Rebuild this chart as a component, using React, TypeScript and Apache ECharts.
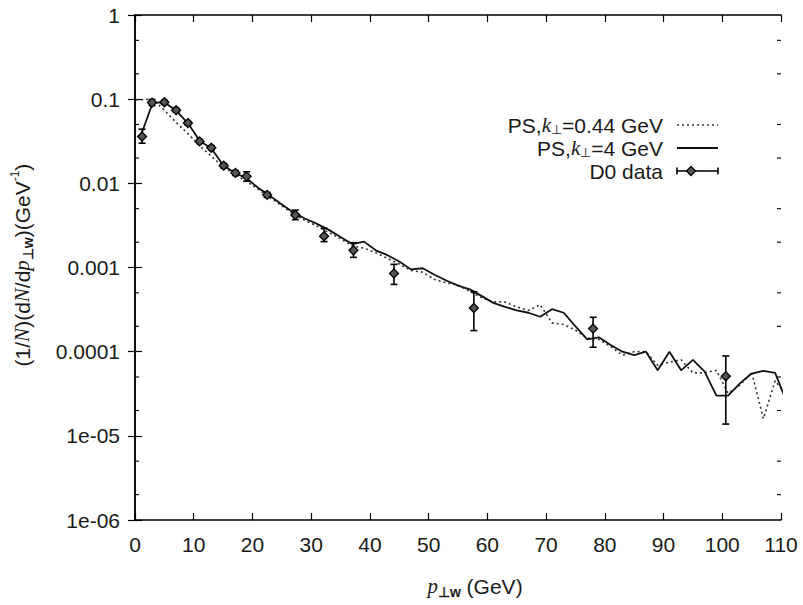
import React, { useEffect, useRef } from "react";
import * as echarts from "echarts";

// ---- data ----
const solidX = [1, 3, 5, 7, 9, 11, 13, 15, 17, 19, 21, 23, 25, 27, 29, 31, 33, 35, 37, 39, 41, 43, 45, 47, 49, 51, 53, 55, 57, 59, 61, 63, 65, 67, 69, 71, 73, 75, 77, 79, 81, 83, 85, 87, 89, 91, 93, 95, 97, 99, 101, 103, 105, 107, 109, 111];
const solidY = [0.037, 0.09, 0.092, 0.073, 0.052, 0.032, 0.026, 0.0165, 0.0133, 0.0115, 0.0088, 0.0071, 0.0056, 0.0045, 0.0038, 0.0033, 0.0028, 0.0023, 0.0019, 0.00203, 0.0016, 0.0014, 0.00118, 0.00095, 0.00098, 0.00082, 0.0007, 0.00061, 0.00055, 0.00046, 0.00038, 0.00034, 0.00031, 0.00029, 0.00026, 0.00032, 0.00029, 0.0002, 0.00014, 0.000148, 0.00012, 0.0001, 9.1e-5, 1.0e-4, 6.0e-5, 1.0e-4, 6.0e-5, 8.0e-5, 5.8e-5, 3.0e-5, 3.0e-5, 4.2e-5, 5.5e-5, 5.9e-5, 5.6e-5, 2.5e-5];

const dottedX = [0.2, 3, 5, 7, 9, 11, 13, 15, 17, 19, 21, 23, 25, 27, 29, 31, 33, 35, 37, 39, 41, 43, 45, 47, 49, 51, 53, 55, 57, 59, 61, 63, 65, 67, 69, 71, 73, 75, 77, 79, 81, 83, 85, 87, 89, 91, 93, 95, 97, 99, 101, 103, 105, 107, 109, 111];
const dottedY = [0.098, 0.1, 0.074, 0.053, 0.039, 0.028, 0.021, 0.0158, 0.0128, 0.0105, 0.0085, 0.0068, 0.0054, 0.0043, 0.0036, 0.0031, 0.0026, 0.0022, 0.0018, 0.0017, 0.0015, 0.00128, 0.0011, 0.00092, 0.00088, 0.00072, 0.00066, 0.00062, 0.00052, 0.00044, 0.00039, 0.00039, 0.00034, 0.00031, 0.00036, 0.00022, 0.00021, 0.00018, 0.000145, 0.00014, 0.000115, 9.1e-5, 1.0e-4, 1.0e-4, 6.9e-5, 7.5e-5, 8.0e-5, 5.6e-5, 5.6e-5, 6.0e-5, 3.2e-5, 4.0e-5, 5.7e-5, 1.6e-5, 4.5e-5, 3.0e-5];

const d0X = [1.2, 2.9, 5.0, 7.0, 9.0, 11.0, 13.0, 15.1, 17.1, 19.0, 22.5, 27.3, 32.2, 37.2, 44.1, 57.7, 78.0, 100.6];
const d0Y = [0.036, 0.091, 0.092, 0.074, 0.052, 0.0315, 0.0265, 0.0162, 0.0133, 0.0121, 0.0073, 0.0042, 0.00235, 0.0016, 0.00085, 0.00033, 0.000188, 5.1e-5];
const d0Lo = [0.030, 0.084, 0.087, 0.070, 0.0495, 0.0298, 0.0250, 0.0152, 0.0124, 0.0106, 0.0068, 0.0037, 0.00203, 0.00132, 0.00063, 0.000178, 0.000113, 1.38e-5];
const d0Hi = [0.044, 0.099, 0.097, 0.078, 0.0545, 0.0332, 0.0280, 0.0172, 0.0142, 0.0137, 0.0078, 0.0048, 0.00292, 0.00197, 0.00109, 0.000516, 0.000256, 8.9e-5];

const xTicks = [0, 10, 20, 30, 40, 50, 60, 70, 80, 90, 100, 110];
const yTickValues = [1, 0.1, 0.01, 0.001, 0.0001, 1e-5, 1e-6];
const yTickLabels = ["1", "0.1", "0.01", "0.001", "0.0001", "1e-05", "1e-06"];
const yMinorTicks = [0.5, 0.2, 0.05, 0.02, 0.005, 0.002, 0.0005, 0.0002, 5e-5, 2e-5, 5e-6, 2e-6];

const FONT = "'Liberation Sans', Arial, Helvetica, sans-serif";
const SERIF = "'Liberation Serif', 'Times New Roman', serif";
const TXT = "#1a1a1a";

export default function App() {
  const ref = useRef<HTMLDivElement>(null);
  useEffect(() => {
    if (!ref.current) return;
    const chart = echarts.init(ref.current, null, { renderer: "svg" });

    const labelFor = (v: number) => {
      for (let i = 0; i < yTickValues.length; i++) {
        if (Math.abs(Math.log10(v) - Math.log10(yTickValues[i])) < 1e-6) return yTickLabels[i];
      }
      return "";
    };

    const axisLine = { show: true, lineStyle: { color: "#000", width: 1.5 } };
    const tick = { show: true, inside: true, length: 7, lineStyle: { color: "#000", width: 1.2 } };
    const xBase = {
      type: "value" as const,
      min: xTicks[0],
      max: xTicks[xTicks.length - 1],
      interval: 10,
      axisLine,
      axisTick: tick,
      splitLine: { show: false },
    };
    const yBase = {
      type: "log" as const,
      logBase: 10,
      min: 1e-6,
      max: 1,
      axisLine,
      axisTick: tick,
      splitLine: { show: false },
      minorTick: { show: false },
    };

    const sub = { fontSize: 14, fontFamily: FONT, fontWeight: "bold", fill: TXT, verticalAlign: "bottom", lineHeight: 14 };
    const main = { fontSize: 21, fontFamily: FONT, fill: TXT, lineHeight: 26 };
    const it = { fontSize: 21, fontFamily: SERIF, fontStyle: "italic", fill: TXT, lineHeight: 26 };
    const sup = { fontSize: 12, fontFamily: FONT, fill: TXT, verticalAlign: "top", lineHeight: 12 };

    const lmain = { fontSize: 21, fontFamily: FONT, fill: TXT, lineHeight: 21 };
    const lit = { fontSize: 21, fontFamily: SERIF, fontStyle: "italic", fill: TXT, lineHeight: 21 };
    const lsub = { fontSize: 13, fontFamily: FONT, fill: TXT, verticalAlign: "bottom", lineHeight: 11 };

    const legendTextX = 663;
    const lx0 = 677;
    const lx1 = 718;
    const ly = [125, 148, 171];

    chart.setOption({
      animation: false,
      backgroundColor: "#fff",
      grid: { left: 135, right: 22, top: 15, bottom: 85 },
      xAxis: [
        {
          ...xBase,
          position: "bottom",
          axisLabel: { show: true, fontSize: 21, fontFamily: FONT, color: TXT, margin: 14 },
        },
        { ...xBase, position: "top", axisLabel: { show: false } },
      ],
      yAxis: [
        {
          ...yBase,
          position: "left",
          axisLabel: { show: true, fontSize: 21, fontFamily: FONT, color: TXT, margin: 15, formatter: (v: number) => labelFor(v) },
        },
        { ...yBase, position: "right", axisLabel: { show: false } },
      ],
      series: [
        {
          type: "line",
          name: "dotted",
          data: dottedX.map((x, i) => [x, dottedY[i]]),
          showSymbol: false,
          symbol: "none",
          clip: true,
          lineStyle: { color: "#333", width: 1.6, type: [2, 3] },
          z: 2,
        },
        {
          type: "line",
          name: "solid",
          data: solidX.map((x, i) => [x, solidY[i]]),
          showSymbol: false,
          symbol: "none",
          clip: true,
          lineStyle: { color: "#111", width: 1.8 },
          z: 3,
        },
        {
          type: "custom",
          name: "D0",
          clip: false,
          z: 5,
          data: d0X.map((x, i) => [x, d0Y[i], d0Lo[i], d0Hi[i]]),
          encode: { x: 0, y: [1, 2, 3] },
          renderItem: (params: any, api: any) => {
            const x = api.value(0);
            const p = api.coord([x, api.value(1)]);
            const lo = api.coord([x, api.value(2)]);
            const hi = api.coord([x, api.value(3)]);
            const c = 3.5;
            const d = 4.5;
            const st = { stroke: "#000", lineWidth: 1.6 };
            return {
              type: "group",
              children: [
                { type: "line", shape: { x1: p[0], y1: lo[1], x2: p[0], y2: hi[1] }, style: st },
                { type: "line", shape: { x1: p[0] - c, y1: lo[1], x2: p[0] + c, y2: lo[1] }, style: st },
                { type: "line", shape: { x1: p[0] - c, y1: hi[1], x2: p[0] + c, y2: hi[1] }, style: st },
                {
                  type: "polygon",
                  shape: { points: [[p[0], p[1] - d], [p[0] + d, p[1]], [p[0], p[1] + d], [p[0] - d, p[1]]] },
                  style: { fill: "#555", stroke: "#000", lineWidth: 1.3 },
                },
              ],
            };
          },
        },
        {
          type: "custom",
          name: "minorTicks",
          clip: false,
          silent: true,
          z: 4,
          data: yMinorTicks.map((v) => [xTicks[0], v]),
          encode: { x: 0, y: 1 },
          renderItem: (params: any, api: any) => {
            const v = api.value(1);
            const l = api.coord([xTicks[0], v]);
            const r = api.coord([xTicks[xTicks.length - 1], v]);
            const st = { stroke: "#000", lineWidth: 1.1 };
            return {
              type: "group",
              children: [
                { type: "line", shape: { x1: l[0], y1: l[1], x2: l[0] + 4, y2: l[1] }, style: st },
                { type: "line", shape: { x1: r[0] - 4, y1: r[1], x2: r[0], y2: r[1] }, style: st },
              ],
            };
          },
        },
      ],
      graphic: [
        {
          type: "text",
          x: 22,
          y: 265,
          rotation: Math.PI / 2,
          style: {
            text: "(1/{it|N})(d{it|N}/d{it|p}{sub|⊥w})(GeV{sup|-1})",
            align: "center",
            verticalAlign: "middle",
            ...main,
            rich: { it, sub, sup, main },
          },
        },
        {
          type: "text",
          x: 475,
          y: 586,
          style: {
            text: "{it|p}{sub|⊥w} (GeV)",
            align: "center",
            verticalAlign: "middle",
            ...main,
            rich: { it, sub, main },
          },
        },
        {
          type: "text",
          x: legendTextX,
          y: ly[0],
          style: {
            text: "PS,{it|k}{sub|⊥}=0.44 GeV",
            align: "right",
            verticalAlign: "middle",
            ...lmain,
            rich: { it: lit, sub: lsub, main: lmain },
          },
        },
        {
          type: "text",
          x: legendTextX,
          y: ly[1],
          style: {
            text: "PS,{it|k}{sub|⊥}=4 GeV",
            align: "right",
            verticalAlign: "middle",
            ...lmain,
            rich: { it: lit, sub: lsub, main: lmain },
          },
        },
        {
          type: "text",
          x: legendTextX,
          y: ly[2],
          style: { text: "D0 data", align: "right", verticalAlign: "middle", ...lmain },
        },
        { type: "line", shape: { x1: lx0, y1: ly[0], x2: lx1, y2: ly[0] }, style: { stroke: "#333", lineWidth: 1.6, lineDash: [2, 3] } },
        { type: "line", shape: { x1: lx0, y1: ly[1], x2: lx1, y2: ly[1] }, style: { stroke: "#111", lineWidth: 1.8 } },
        { type: "line", shape: { x1: lx0, y1: ly[2], x2: lx1, y2: ly[2] }, style: { stroke: "#000", lineWidth: 1.6 } },
        { type: "line", shape: { x1: lx0, y1: ly[2] - 3.5, x2: lx0, y2: ly[2] + 3.5 }, style: { stroke: "#000", lineWidth: 1.6 } },
        { type: "line", shape: { x1: lx1, y1: ly[2] - 3.5, x2: lx1, y2: ly[2] + 3.5 }, style: { stroke: "#000", lineWidth: 1.6 } },
        {
          type: "polygon",
          shape: { points: [[691, ly[2] - 4.5], [695.5, ly[2]], [691, ly[2] + 4.5], [686.5, ly[2]]] },
          style: { fill: "#555", stroke: "#000", lineWidth: 1.3 },
        },
      ],
    });
    return () => chart.dispose();
  }, []);
  return <div ref={ref} style={{ width: 803, height: 605, position: "absolute", left: 0, top: 0 }} />;
}
